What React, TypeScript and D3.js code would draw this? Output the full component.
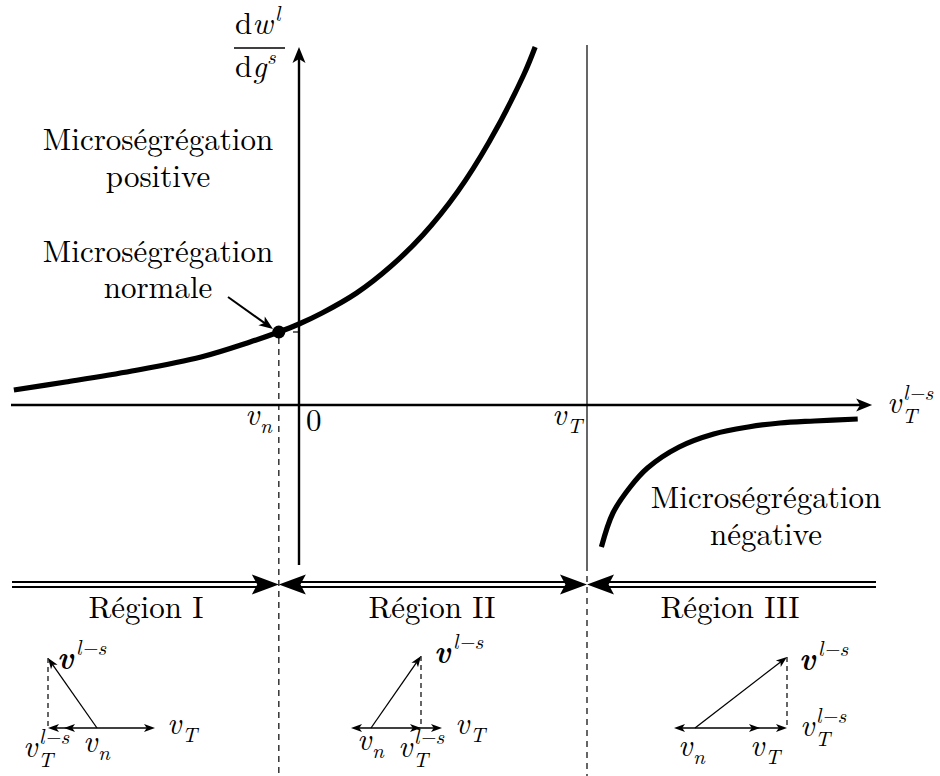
import React from "react";
import * as d3 from "d3";

const W = 940;
const H = 776;
const FONT = "'Latin Modern Roman', 'Liberation Serif', serif";

// Velocity markers on the horizontal axis (abstract units: v_T = 1)
const vNormal = -0.07;
const vZero = 0;
const vThermal = 1;

// Upper branch of dw^l/dg^s (positive + normal microsegregation)
const upperV = [-0.99, -0.81, -0.58, -0.34, -0.17, -0.07, 0, 0.08, 0.2, 0.32, 0.43, 0.55, 0.66, 0.78, 0.82];
const upperY = [0.15, 0.23, 0.34, 0.48, 0.63, 0.73, 0.81, 0.92, 1.12, 1.39, 1.7, 2.13, 2.63, 3.3, 3.58];

// Lower branch (negative microsegregation), beyond v_T
const lowerV = [1.05, 1.09, 1.15, 1.21, 1.32, 1.44, 1.56, 1.67, 1.79, 1.94];
const lowerY = [-1.42, -1.08, -0.82, -0.63, -0.42, -0.29, -0.22, -0.18, -0.16, -0.14];

// Region captions under the axis
const regionNames = ["Région I", "Région II", "Région III"];

// Velocity-diagram components per region (px along the base line, vertical rise)
const diagVn = [-33, -20, -21];
const diagVT = [58, 71, 65];
const diagVTls = [-49, 50, 92];
const diagRise = [70, 72, 71];

const x = d3.scaleLinear().domain([0, 1]).range([299, 587]);
const y = d3.scaleLinear().domain([0, 1]).range([405, 305]);

const curveLine = d3
  .line<[number, number]>()
  .x((d) => x(d[0]))
  .y((d) => y(d[1]))
  .curve(d3.curveCatmullRom.alpha(0.5));

// LaTeX-like arrow head with a slightly concave back
function head(tx: number, ty: number, ang: number, len: number, half: number, notch = 0.25) {
  const c = Math.cos(ang);
  const s = Math.sin(ang);
  const bx = tx - c * len;
  const by = ty - s * len;
  const px = -s;
  const py = c;
  const nx = tx - c * len * (1 - notch);
  const ny = ty - s * len * (1 - notch);
  return `M${tx},${ty} L${bx + px * half},${by + py * half} L${nx},${ny} L${bx - px * half},${by - py * half} Z`;
}

function Arrow({ x1, y1, x2, y2, w = 1.3, len = 10, half = 4 }: any) {
  const ang = Math.atan2(y2 - y1, x2 - x1);
  const ex = x2 - Math.cos(ang) * len * 0.7;
  const ey = y2 - Math.sin(ang) * len * 0.7;
  return (
    <g>
      <line x1={x1} y1={y1} x2={ex} y2={ey} stroke="#000" strokeWidth={w} />
      <path d={head(x2, y2, ang, len, half)} fill="#000" />
    </g>
  );
}

const txt = (size: number, italic = false, bold = false): React.CSSProperties => ({
  fontFamily: FONT,
  fontSize: size,
  fontStyle: italic ? "italic" : "normal",
  fontWeight: bold ? "bold" : "normal",
});

// Math symbol: italic base with optional subscript and superscript
function Sym({ x: sx, y: sy, base = "v", sub, sup, bold = false, size = 31, bw = 15 }: any) {
  const small = size * 0.68;
  return (
    <g fill="#000">
      <text x={sx} y={sy} style={txt(size, true, bold)}>
        {base}
      </text>
      {sub && (
        <text x={sx + bw} y={sy + (sup ? 10 : 8)} style={txt(small, true)}>
          {sub}
        </text>
      )}
      {sup && (
        <text x={sx + bw + (bold ? 3 : 1)} y={sy - 13} style={txt(small, true)}>
          {sup}
        </text>
      )}
    </g>
  );
}

export default function App() {
  const upper = upperV.map((v, i) => [v, upperY[i]] as [number, number]);
  const lower = lowerV.map((v, i) => [v, lowerY[i]] as [number, number]);

  const xN = x(vNormal);
  const xT = x(vThermal);
  const x0 = x(vZero);
  const yAxis = y(0);
  const axisLeft = x(-1);
  const axisRight = x(1.99);
  const yTop = y(3.58);
  const yBottom = y(-1.6);
  const pointY = y(upperY[upperV.indexOf(vNormal)]);

  // Double-line region band
  const bandY1 = 582;
  const bandY2 = 587;
  const bandMid = (bandY1 + bandY2) / 2;
  const bandLeft = 12;
  const bandRight = 876;
  const bigLen = 27;
  const bigHalf = 10;
  const segments = [
    { a: bandLeft, b: xN, headA: false, headB: true },
    { a: xN, b: xT, headA: true, headB: true },
    { a: xT, b: bandRight, headA: true, headB: false },
  ];
  const regionCenters = [146, 432, 730];

  // Velocity diagrams
  const diagOrigins = [97, 371, 695];
  const diagBase = 728;
  const diagLabels = [
    { vec: [57, 668], vT: [167, 734], vn: [83, 752], vTls: [23, 757] },
    { vec: [434, 662], vT: [455, 734], vn: [357, 750], vTls: [398, 757] },
    { vec: [799, 669], vT: [750, 756], vn: [678, 756], vTls: [800, 736] },
  ];

  return (
    <svg width={W} height={H} style={{ display: "block", position: "absolute", left: 0, top: 0 }}>
      <rect width={W} height={H} fill="#fff" />

      {/* dashed guides at v_n and v_T */}
      <line x1={xN} y1={pointY + 6} x2={xN} y2={H} stroke="#000" strokeWidth={1.2} strokeDasharray="6,5" />
      <line x1={xT} y1={45} x2={xT} y2={yBottom} stroke="#000" strokeWidth={1.2} />
      <line x1={xT} y1={yBottom} x2={xT} y2={H} stroke="#000" strokeWidth={1.2} strokeDasharray="6,5" />

      {/* axes */}
      <line x1={axisLeft} y1={yAxis} x2={axisRight - 10} y2={yAxis} stroke="#000" strokeWidth={2.4} />
      <path d={head(axisRight, yAxis, 0, 16, 6.5)} fill="#000" />
      <line x1={x0} y1={yBottom} x2={x0} y2={yTop + 10} stroke="#000" strokeWidth={2.4} />
      <path d={head(x0, yTop, -Math.PI / 2, 16, 6.5)} fill="#000" />
      <line x1={x0 - 6} y1={pointY} x2={x0} y2={pointY} stroke="#000" strokeWidth={1.2} />

      {/* curves */}
      <path d={curveLine(upper) || ""} fill="none" stroke="#000" strokeWidth={5.2} />
      <path d={curveLine(lower) || ""} fill="none" stroke="#000" strokeWidth={5.2} />
      <circle cx={xN} cy={pointY} r={6.5} fill="#000" />

      {/* axis title */}
      <g fill="#000">
        <text x={235} y={34} style={txt(31)}>
          d<tspan style={{ fontStyle: "italic" }}>w</tspan>
        </text>
        <text x={275} y={21} style={txt(21, true)}>l</text>
        <line x1={234} y1={48} x2={285} y2={48} stroke="#000" strokeWidth={1.3} />
        <text x={235} y={77} style={txt(31)}>
          d<tspan style={{ fontStyle: "italic" }}>g</tspan>
        </text>
        <text x={267} y={64} style={txt(21, true)}>s</text>
      </g>
      <Sym x={887} y={413} sub="T" sup="l−s" />

      {/* axis markers */}
      <Sym x={245} y={425} sub="n" />
      <text x={306} y={431} style={txt(31)}>0</text>
      <Sym x={552} y={425} sub="T" />

      {/* annotations */}
      <g fill="#000" textAnchor="middle">
        <text x={158} y={150} style={txt(31)}>Microségrégation</text>
        <text x={158} y={187} style={txt(31)}>positive</text>
        <text x={158} y={262} style={txt(31)}>Microségrégation</text>
        <text x={158} y={298} style={txt(31)}>normale</text>
        <text x={766} y={508} style={txt(31)}>Microségrégation</text>
        <text x={766} y={545} style={txt(31)}>négative</text>
      </g>
      <Arrow x1={228} y1={297} x2={273} y2={329} w={2} len={14} half={5.5} />

      {/* region band */}
      {segments.map((s, i) => {
        const a = s.headA ? s.a + bigLen * 0.8 : s.a;
        const b = s.headB ? s.b - bigLen * 0.8 : s.b;
        return (
          <g key={i}>
            <line x1={a} y1={bandY1} x2={b} y2={bandY1} stroke="#000" strokeWidth={2} />
            <line x1={a} y1={bandY2} x2={b} y2={bandY2} stroke="#000" strokeWidth={2} />
            {s.headA && <path d={head(s.a, bandMid, Math.PI, bigLen, bigHalf, 0.2)} fill="#000" />}
            {s.headB && <path d={head(s.b, bandMid, 0, bigLen, bigHalf, 0.2)} fill="#000" />}
          </g>
        );
      })}
      <g fill="#000" textAnchor="middle">
        {regionNames.map((n, i) => (
          <text key={n} x={regionCenters[i]} y={618} style={txt(31)}>
            {n}
          </text>
        ))}
      </g>

      {/* velocity diagrams */}
      {diagOrigins.map((ox, i) => {
        const tipX = ox + diagVTls[i];
        const tipY = diagBase - diagRise[i];
        const L = diagLabels[i];
        const lefts = [diagVn[i], diagVTls[i], diagVT[i]].filter((d) => d < 0);
        const rights = [diagVn[i], diagVTls[i], diagVT[i]].filter((d) => d > 0);
        const minL = Math.min(...lefts);
        const maxR = Math.max(...rights);
        return (
          <g key={i}>
            <line x1={tipX} y1={tipY} x2={tipX} y2={diagBase} stroke="#000" strokeWidth={1.2} strokeDasharray="5,4" />
            <line x1={ox + minL + 6} y1={diagBase} x2={ox + maxR - 6} y2={diagBase} stroke="#000" strokeWidth={1.4} />
            {[...lefts, ...rights].map((d, j) => (
              <path key={j} d={head(ox + d, diagBase, d < 0 ? Math.PI : 0, 11, 4, 0.25)} fill="#000" />
            ))}
            <Arrow x1={ox} y1={diagBase} x2={tipX} y2={tipY} w={1.3} len={11} half={4} />
            <Sym x={L.vec[0]} y={L.vec[1]} sup="l−s" bold bw={16} />
            <Sym x={L.vT[0]} y={L.vT[1]} sub="T" />
            <Sym x={L.vn[0]} y={L.vn[1]} sub="n" />
            <Sym x={L.vTls[0]} y={L.vTls[1]} sub="T" sup="l−s" />
          </g>
        );
      })}
    </svg>
  );
}
